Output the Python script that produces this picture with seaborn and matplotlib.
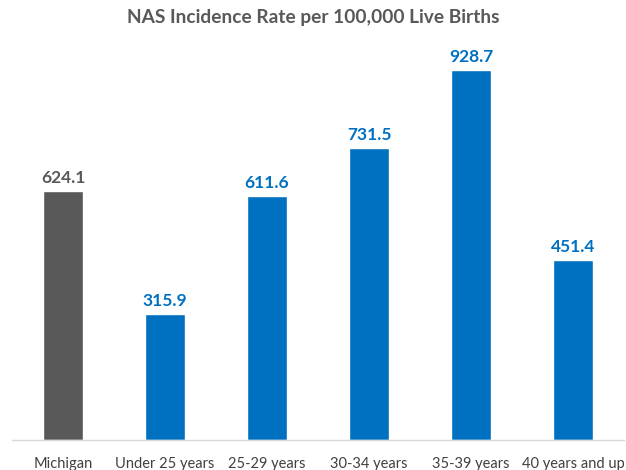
import matplotlib
matplotlib.use("Agg")
import matplotlib.pyplot as plt
import seaborn as sns
import pandas as pd

categories = ["Michigan", "Under 25 years", "25-29 years", "30-34 years", "35-39 years", "40 years and up"]
values = [624.1, 315.9, 611.6, 731.5, 928.7, 451.4]
title = "NAS Incidence Rate per 100,000 Live Births"

sns.set_style("white")
plt.rcParams['font.family'] = ['Lato', 'DejaVu Sans']

colors = ["#595959"] + ["#0070C0"] * 5
df = pd.DataFrame({"cat": categories, "val": values})

fig = plt.figure(figsize=(6.26, 4.70), dpi=100)
ax = fig.add_axes([12/626, 1 - 440/470, 612/626, (440 - 40)/470])
sns.barplot(data=df, x="cat", y="val", hue="cat", palette=colors, legend=False,
            width=0.4, ax=ax, saturation=1)
ax.set_xlim(-0.5, 5.5)
ax.set_ylim(0, 1003)
ax.set_xlabel("")
ax.set_ylabel("")
ax.set_yticks([])
for s in ["top", "right", "left"]:
    ax.spines[s].set_visible(False)
ax.spines["bottom"].set_color("#D9D9D9")
ax.spines["bottom"].set_linewidth(1)
ax.tick_params(axis="x", length=0, pad=12, labelsize=10.5, labelcolor="#404040")

for i, (v, c) in enumerate(zip(values, colors)):
    ax.text(i, v + 12, f"{v:.1f}", ha="center", va="bottom", fontsize=12.5,
            fontweight="bold", color=c)

fig.text(0.5, 1 - 17/470, title, ha="center", va="center", fontsize=13.8,
         fontweight="bold", color="#595959")

fig.savefig("out.png", dpi=100)
